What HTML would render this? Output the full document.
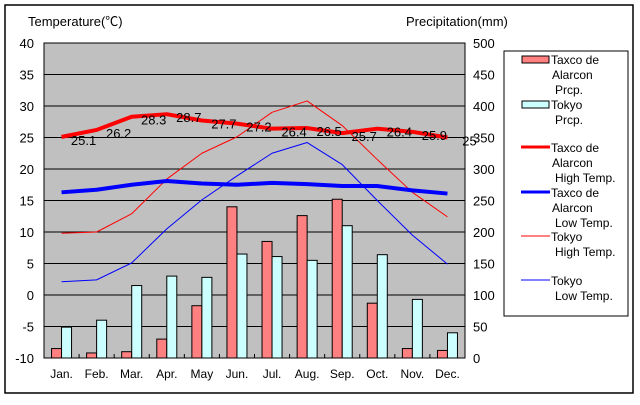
<!DOCTYPE html>
<html><head><meta charset="utf-8"><style>
body{margin:0;background:#fff;}
svg text{font-family:"Liberation Sans","Noto Sans CJK JP",sans-serif;}
</style></head><body>
<svg id="c" width="640" height="400" xmlns="http://www.w3.org/2000/svg">
<rect x="5" y="5" width="628" height="388" fill="#fff" stroke="#000" stroke-width="1.5"/>
<rect x="44" y="43" width="421" height="315" fill="#c0c0c0" stroke="#000"/>
<g id="grid"></g><g id="bars"></g><g id="lines"></g><g id="axes"></g>
<text x="28" y="26" font-size="13">Temperature(℃)</text>
<text x="406" y="26" font-size="13">Precipitation(mm)</text>
<g font-size="12">
<rect x="504" y="51" width="124" height="265" fill="#fff" stroke="#000"/>
<rect x="522" y="56" width="27" height="7" fill="#ff8080" stroke="#000"/>
<text x="551" y="64">Taxco de</text><text x="552" y="79">Alarcon</text><text x="555" y="94">Prcp.</text>
<rect x="522" y="101" width="27" height="7" fill="#ccffff" stroke="#000"/>
<text x="551" y="109">Tokyo</text><text x="555" y="124">Prcp.</text>
<line x1="521" y1="147" x2="550" y2="147" stroke="#f00" stroke-width="3"/>
<text x="551" y="152">Taxco de</text><text x="552" y="167">Alarcon</text><text x="555" y="182">High Temp.</text>
<line x1="521" y1="192" x2="550" y2="192" stroke="#00f" stroke-width="3"/>
<text x="551" y="197">Taxco de</text><text x="552" y="212">Alarcon</text><text x="555" y="227">Low Temp.</text>
<line x1="521" y1="236" x2="550" y2="236" stroke="#f00" stroke-width="1"/>
<text x="551" y="241">Tokyo</text><text x="555" y="256">High Temp.</text>
<line x1="521" y1="280" x2="550" y2="280" stroke="#00f" stroke-width="1"/>
<text x="551" y="285">Tokyo</text><text x="555" y="300">Low Temp.</text>
</g>
</svg>
<script>
const months=["Jan.","Feb.","Mar.","Apr.","May","Jun.","Jul.","Aug.","Sep.","Oct.","Nov.","Dec."];
const tempTicks=[-10,-5,0,5,10,15,20,25,30,35,40];
const precTicks=[0,50,100,150,200,250,300,350,400,450,500];
const taxcoHigh=[25.1,26.2,28.3,28.7,27.7,27.2,26.4,26.5,25.7,26.4,25.9,25.0];
const taxcoLow=[16.3,16.7,17.5,18.1,17.7,17.5,17.8,17.6,17.3,17.3,16.6,16.1];
const tokyoHigh=[9.8,10.0,12.9,18.4,22.5,25.1,29.0,30.8,26.9,21.5,16.3,12.4];
const tokyoLow=[2.1,2.4,5.1,10.5,15.1,18.9,22.5,24.2,20.7,15.0,9.5,4.9];
const taxcoPrcp=[15,8,10,30,83,240,185,226,252,87,15,12];
const tokyoPrcp=[49,60,115,130,128,165,161,155,210,164,93,40];
const NS="http://www.w3.org/2000/svg";
const L=44,R=465,T=43,B=358,bw=(R-L)/12;
const xc=i=>L+bw*(i+0.5);
const yT=v=>B-(v+10)/50*(B-T);
const yP=v=>B-v/500*(B-T);
function mk(tag,attrs,parent,text){const e=document.createElementNS(NS,tag);for(const k in attrs)e.setAttribute(k,attrs[k]);if(text!==undefined)e.textContent=text;document.getElementById(parent).appendChild(e);return e;}
tempTicks.forEach((t,i)=>{
 const y=yT(t);
 if(t>-10&&t<40){const g=mk('line',{x1:L,x2:R,y1:y,y2:y,stroke:'#000','stroke-width':1},'grid');}
 const a=mk('text',{x:L-10,y:y+5,'font-size':13,'text-anchor':'end'},'axes',t);
 
 
 const b=mk('text',{x:R+8,y:y+5,'font-size':13},'axes',precTicks[i]);
 
 
});
months.forEach((m,i)=>{
 const t=mk('text',{x:xc(i),y:B+20,'font-size':12,'text-anchor':'middle'},'axes',m);
 
 
 if(i>0){const k=mk('line',{x1:L+bw*i,x2:L+bw*i,y1:B,y2:B-4,stroke:'#000'},'axes');}
 const r1=mk('rect',{x:xc(i)-10,y:yP(taxcoPrcp[i]),width:10,height:B-yP(taxcoPrcp[i]),fill:'#ff8080',stroke:'#000'},'bars');
 
 
 const r2=mk('rect',{x:xc(i),y:yP(tokyoPrcp[i]),width:10,height:B-yP(tokyoPrcp[i]),fill:'#ccffff',stroke:'#000'},'bars');
 
 
});
function line(arr,col,w,name){
 const p=mk('polyline',{points:arr.map((v,i)=>xc(i)+','+yT(v)).join(' '),fill:'none',stroke:col,'stroke-width':w,'stroke-linejoin':'round'},'lines');
 
 
}
line(tokyoHigh,'#f00',1,'line-tokyo-high');
line(tokyoLow,'#00f',1,'line-tokyo-low');
line(taxcoLow,'#00f',4,'line-taxco-low');
line(taxcoHigh,'#f00',4,'line-taxco-high');
taxcoHigh.forEach((v,i)=>{
 const t=mk('text',{x:xc(i)+22,y:yT(v)+8,'font-size':13,'text-anchor':'middle'},'lines',v.toFixed(1).replace(/\.0$/,''));
 
 
});
</script>
</body></html>
